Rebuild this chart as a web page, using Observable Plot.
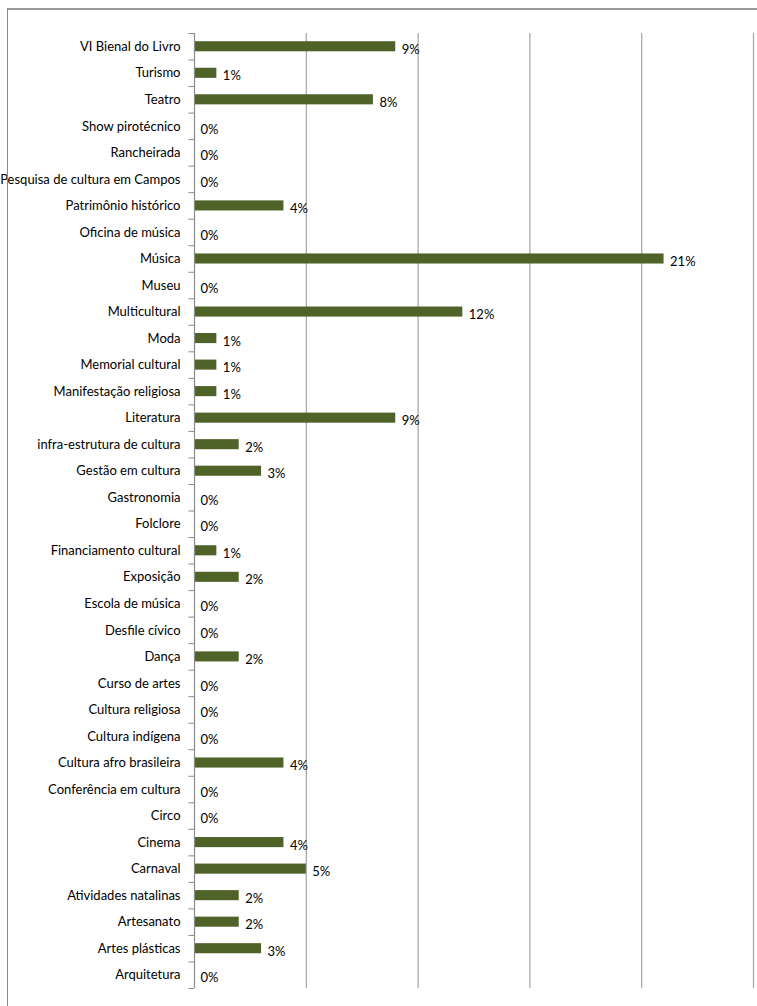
<!DOCTYPE html>
<html>
<head>
<meta charset="utf-8">
<script src="https://cdn.jsdelivr.net/npm/d3@7"></script>
<script src="https://cdn.jsdelivr.net/npm/@observablehq/plot@0.6"></script>
<style>
  html, body { margin: 0; padding: 0; background: #fff; }
  #wrap { position: relative; width: 757px; height: 1006px; overflow: hidden; }
  #frame { position: absolute; left: 7px; top: 8px; width: 760px; height: 1010px;
           border-top: 2px solid #9a9a9a; border-left: 1.5px solid #8a8a8a; box-sizing: border-box; pointer-events: none; }
  svg { position: absolute; left: 0; top: 0; }
</style>
</head>
<body>
<div id="wrap"><div id="frame"></div></div>
<script>
const categories = [
  "VI Bienal do Livro", "Turismo", "Teatro", "Show pirotécnico", "Rancheirada",
  "Pesquisa de cultura em Campos", "Patrimônio histórico", "Oficina de música", "Música", "Museu",
  "Multicultural", "Moda", "Memorial cultural", "Manifestação religiosa", "Literatura",
  "infra-estrutura de cultura", "Gestão em cultura", "Gastronomia", "Folclore", "Financiamento cultural",
  "Exposição", "Escola de música", "Desfile cívico", "Dança", "Curso de artes",
  "Cultura religiosa", "Cultura indígena", "Cultura afro brasileira", "Conferência em cultura", "Circo",
  "Cinema", "Carnaval", "Atividades natalinas", "Artesanato", "Artes plásticas", "Arquitetura"
];
const values = [
  9, 1, 8, 0, 0,
  0, 4, 0, 21, 0,
  12, 1, 1, 1, 9,
  2, 3, 0, 0, 1,
  2, 0, 0, 2, 0,
  0, 0, 4, 0, 0,
  4, 5, 2, 2, 3, 0
];
const gridTicks = [5, 10, 15, 20, 25];

const data = categories.map((c, i) => ({cat: c, v: values[i]}));
const font = "Lato, 'DejaVu Sans Condensed', sans-serif";
const H = 1006, mTop = 33, mBottom = 18;
const step = (H - mTop - mBottom) / categories.length;

const chart = Plot.plot({
  width: 757,
  height: H,
  marginLeft: 194,
  marginRight: 4,
  marginTop: mTop,
  marginBottom: mBottom,
  style: {fontFamily: font, fontSize: "13px", color: "#000", background: "transparent"},
  x: {domain: [0, 25], axis: null},
  y: {domain: categories, paddingInner: 0.62, paddingOuter: 0.31, round: false, label: null},
  marks: [
    Plot.ruleX(gridTicks, {stroke: "#a3a3a3", strokeWidth: 1.2}),
    Plot.barX(data, {x: "v", y: "cat", fill: "#4f6228"}),
    Plot.ruleX([0], {stroke: "#8c8c8c", strokeWidth: 1.2}),
    Plot.ruleY(categories, {y: d => d, x1: -0.25, x2: 0, dy: step / 2, stroke: "#8c8c8c"}),
    Plot.ruleY([categories[0]], {y: d => d, x1: -0.25, x2: 0, dy: -step / 2, stroke: "#8c8c8c"}),
    Plot.text(data, {x: "v", y: "cat", text: d => d.v + "%", textAnchor: "start", dx: 6, dy: 3, fill: "#000", fontSize: 13}),
    Plot.axisY({tickSize: 0, tickPadding: 14, fontSize: 13, fill: "#000", label: null})
  ]
});
document.getElementById("wrap").prepend(chart);
</script>
</body>
</html>
